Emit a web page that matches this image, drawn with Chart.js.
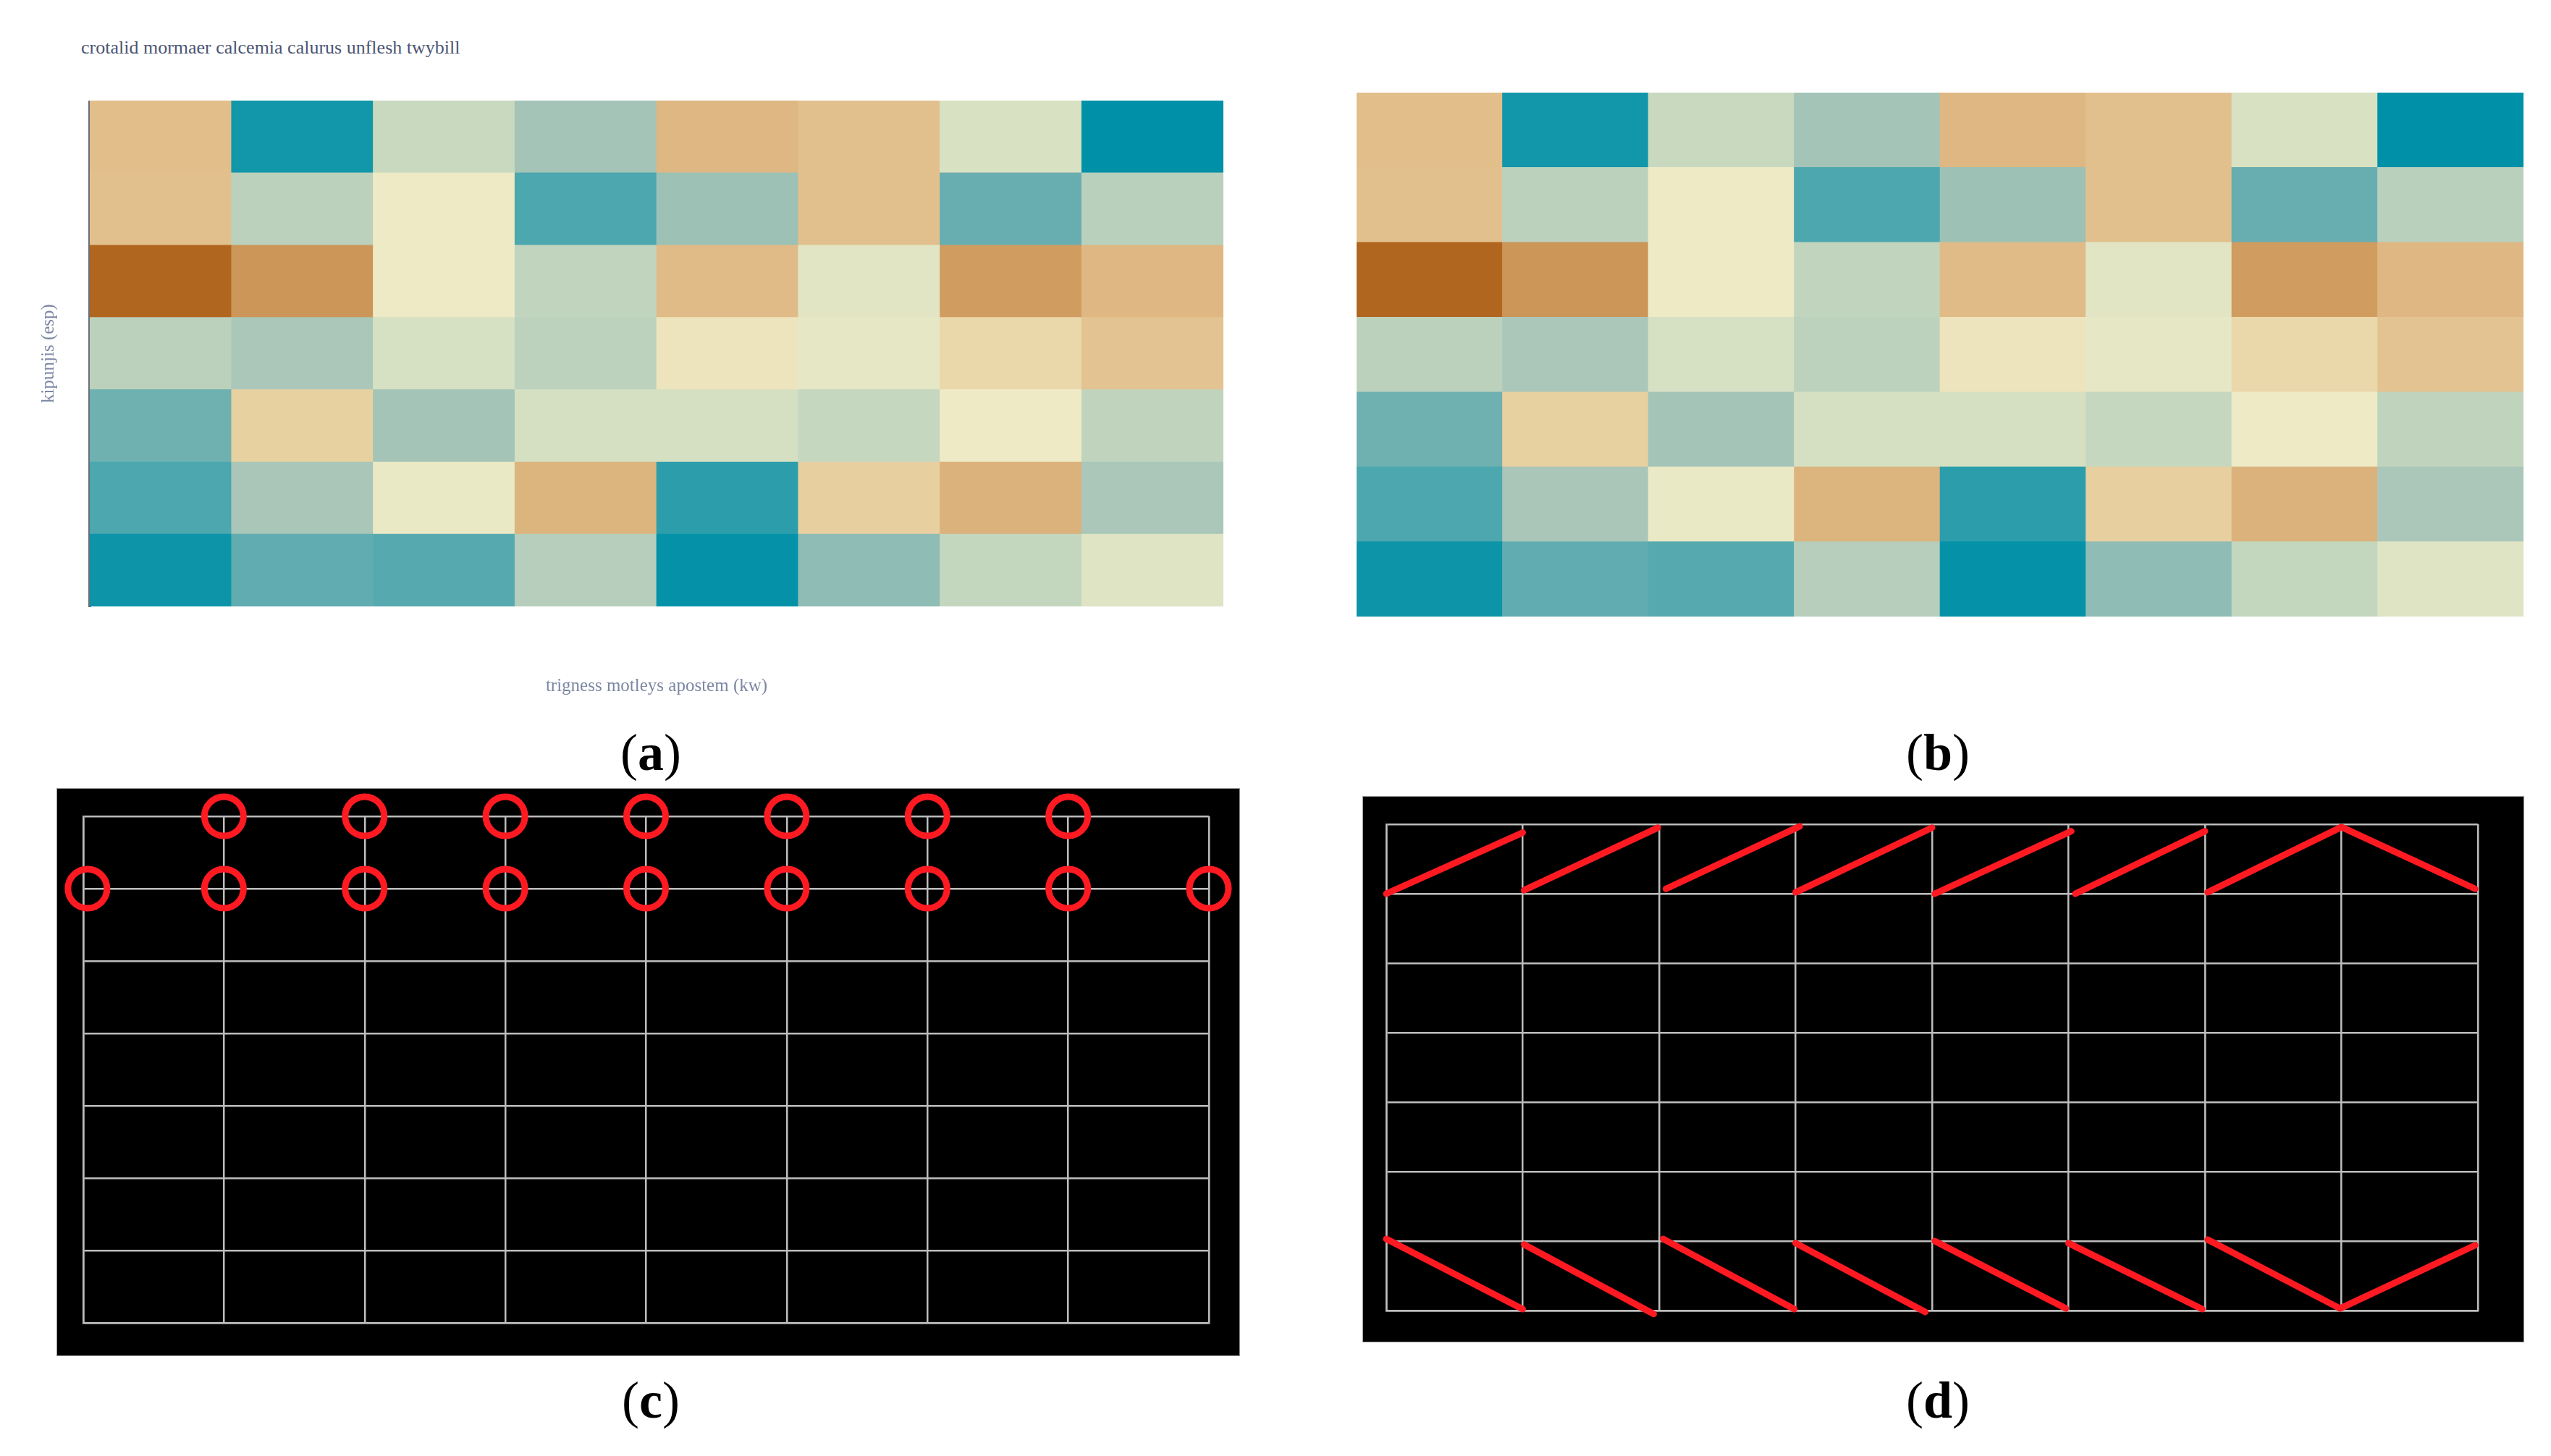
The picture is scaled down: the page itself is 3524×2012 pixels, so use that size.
<!DOCTYPE html>
<html>
<head>
<meta charset="utf-8">
<script src="https://cdn.jsdelivr.net/npm/chart.js@4.4.1/dist/chart.umd.min.js"></script>
<style>
  html, body { margin: 0; padding: 0; background: #fff; }
  body { width: 3524px; height: 2012px; position: relative; overflow: hidden; }
  canvas { position: absolute; }
  .cap {
    position: absolute;
    font-family: "Liberation Serif", serif;
    font-size: 72px;
    color: #000;
    transform: translate(-50%, -50%);
    white-space: nowrap;
  }
  #titleA {
    position: absolute;
    left: 112px;
    top: 51px;
    font-family: "Liberation Serif", serif;
    font-size: 26px;
    color: #4b5572;
    white-space: nowrap;
  }
  .dark { background: #000; box-shadow: 0 0 0 1px #9a9a9a; }
</style>
</head>
<body>
<div id="titleA">crotalid mormaer calcemia calurus unflesh twybill</div>
<canvas id="heatA" width="1650" height="834" style="left:40px; top:139px"></canvas>
<canvas id="heatB" width="1612" height="724" style="left:1874px; top:128px"></canvas>
<canvas id="dotsC" class="dark" width="1633" height="783" style="left:79px; top:1090px"></canvas>
<canvas id="linesD" class="dark" width="1603" height="753" style="left:1883px; top:1101px"></canvas>

<div class="cap" style="left:899px; top:1040px">(<b>a</b>)</div>
<div class="cap" style="left:2677px; top:1040px">(<b>b</b>)</div>
<div class="cap" style="left:899px; top:1935px">(<b>c</b>)</div>
<div class="cap" style="left:2677px; top:1935px">(<b>d</b>)</div>

<script>
// --- heatmap values (top row first), 8 columns x 7 rows
const heatColumns = ['1', '2', '3', '4', '5', '6', '7', '8'];
const heatRow1 = [-0.38, 0.93, 0.22, 0.45, -0.42, -0.36, 0.12, 1.00];
const heatRow2 = [-0.36, 0.30, 0.00, 0.70, 0.50, -0.36, 0.62, 0.31];
const heatRow3 = [-1.00, -0.60, 0.00, 0.26, -0.40, 0.07, -0.57, -0.42];
const heatRow4 = [0.30, 0.40, 0.13, 0.29, -0.06, 0.04, -0.18, -0.34];
const heatRow5 = [0.60, -0.24, 0.45, 0.14, 0.14, 0.24, 0.00, 0.27];
const heatRow6 = [0.70, 0.41, 0.02, -0.44, 0.83, -0.25, -0.45, 0.40];
const heatRow7 = [0.95, 0.64, 0.67, 0.33, 0.98, 0.53, 0.25, 0.08];
const heatRows = [heatRow1, heatRow2, heatRow3, heatRow4, heatRow5, heatRow6, heatRow7];

// --- panel (c): circle markers
const upperDotsX = [1, 2, 3, 4, 5, 6, 7];
const upperDotsY = [7, 7, 7, 7, 7, 7, 7];
const lowerDotsX = [0.03, 1, 2, 3, 4, 5, 6, 7, 8];
const lowerDotsY = [6, 6, 6, 6, 6, 6, 6, 6, 6];

// --- panel (d): zigzag traces (null = break between strokes)
const upperTraceX = [0, 1.0, null, 1.01, 1.99, null, 2.05, 3.03, null, 3.0, 4.0, null, 4.02, 5.02, null, 5.05, 6.0, null, 6.02, 7.0, 7.98];
const upperTraceY = [6.0, 6.88, null, 6.05, 6.95, null, 6.07, 6.97, null, 6.02, 6.95, null, 6.0, 6.9, null, 6.0, 6.9, null, 6.02, 6.96, 6.07];
const lowerTraceX = [0, 1.0, null, 1.01, 1.96, null, 2.03, 2.99, null, 3.0, 3.95, null, 4.02, 4.98, null, 5.0, 5.98, null, 6.02, 6.99, 7.98];
const lowerTraceY = [1.03, 0.02, null, 0.95, -0.05, null, 1.03, 0.02, null, 0.97, -0.02, null, 1.0, 0.03, null, 0.97, 0.02, null, 1.02, 0.03, 0.94];

// diverging brown -> cream -> teal colour scale
const colorStops = [
  [-1.0, '#b1661f'], [-0.6, '#cd9659'], [-0.4, '#e0bb87'], [-0.2, '#e9d6a8'],
  [0.0, '#eeeac6'], [0.1, '#dbe3c3'], [0.25, '#c3d6be'], [0.4, '#aac7b9'],
  [0.5, '#9dc1b5'], [0.6, '#6fb0b1'], [0.7, '#4ca7ae'], [0.82, '#2f9fab'], [1.0, '#0090a8'],
];

function hexToRgb(hex) {
  return [1, 3, 5].map((i) => parseInt(hex.slice(i, i + 2), 16));
}

function heatColor(v) {
  for (let i = 1; i < colorStops.length; i++) {
    const [v1, c1] = colorStops[i];
    if (v <= v1) {
      const [v0, c0] = colorStops[i - 1];
      const t = (v - v0) / (v1 - v0);
      const a = hexToRgb(c0), b = hexToRgb(c1);
      const rgb = a.map((x, k) => Math.round(x + (b[k] - x) * t));
      return `rgb(${rgb.join(',')})`;
    }
  }
  return colorStops[colorStops.length - 1][1];
}

function zip(xs, ys) {
  return xs.map((x, i) => ({ x: x === null ? null : x, y: ys[i] }));
}

Chart.defaults.animation = false;
Chart.defaults.devicePixelRatio = 1;

// stacked bars, bottom row first so the stack grows upwards
function heatDatasets() {
  return heatRows.slice().reverse().map((row) => ({
    data: row.map(() => 1),
    backgroundColor: row.map(heatColor),
    borderWidth: 0,
    barPercentage: 1,
    categoryPercentage: 1,
  }));
}

function heatOptions(withAxes) {
  const axisText = '#7c87a3';
  return {
    responsive: false,
    maintainAspectRatio: false,
    layout: { padding: 0 },
    plugins: { legend: { display: false }, tooltip: { enabled: false } },
    scales: {
      x: {
        display: withAxes,
        stacked: true,
        grid: { display: false, drawTicks: false },
        border: { display: false },
        ticks: { display: false },
        title: {
          display: true,
          text: 'trigness motleys apostem (kw)',
          color: axisText,
          font: { family: 'Liberation Serif', size: 25 },
          padding: { top: 95, bottom: 10 },
        },
      },
      y: {
        display: withAxes,
        stacked: true,
        min: 0,
        max: 7,
        z: 1,
        grid: { display: false, drawTicks: false },
        border: { display: true, color: '#6a6f7a', width: 4 },
        ticks: { display: false },
        title: {
          display: true,
          text: 'kipunjis (esp)',
          color: axisText,
          font: { family: 'Liberation Serif', size: 25 },
          padding: { top: 12, bottom: 42 },
        },
      },
    },
  };
}

new Chart(document.getElementById('heatA'), {
  type: 'bar',
  data: { labels: heatColumns, datasets: heatDatasets() },
  options: heatOptions(true),
});

new Chart(document.getElementById('heatB'), {
  type: 'bar',
  data: { labels: heatColumns, datasets: heatDatasets() },
  options: heatOptions(false),
});

const red = '#ff1a22';
const gridGray = '#bdbdbd';

function gridOptions(padding) {
  const axis = (max) => ({
    type: 'linear',
    min: 0,
    max,
    ticks: { display: false, stepSize: 1 },
    grid: { color: gridGray, lineWidth: 2.5, drawTicks: false },
    border: { color: gridGray, width: 2.5 },
  });
  return {
    responsive: false,
    maintainAspectRatio: false,
    layout: { padding },
    plugins: { legend: { display: false }, tooltip: { enabled: false } },
    scales: { x: axis(8), y: axis(7) },
  };
}

new Chart(document.getElementById('dotsC'), {
  type: 'scatter',
  data: {
    datasets: [
      { data: zip(upperDotsX, upperDotsY) },
      { data: zip(lowerDotsX, lowerDotsY) },
    ].map((d) => ({
      ...d,
      pointStyle: 'circle',
      pointRadius: 27,
      pointBorderWidth: 9,
      borderColor: red,
      backgroundColor: 'transparent',
      clip: false,
    })),
  },
  options: gridOptions({ left: 33, right: 42, top: 38, bottom: 45 }),
});

new Chart(document.getElementById('linesD'), {
  type: 'line',
  data: {
    datasets: [
      { data: zip(upperTraceX, upperTraceY) },
      { data: zip(lowerTraceX, lowerTraceY) },
    ].map((d) => ({
      ...d,
      borderColor: red,
      borderWidth: 9,
      borderCapStyle: 'round',
      borderJoinStyle: 'round',
      pointRadius: 0,
      spanGaps: false,
      tension: 0,
      clip: false,
    })),
  },
  options: gridOptions({ left: 32, right: 63, top: 38, bottom: 43 }),
});
</script>
</body>
</html>
